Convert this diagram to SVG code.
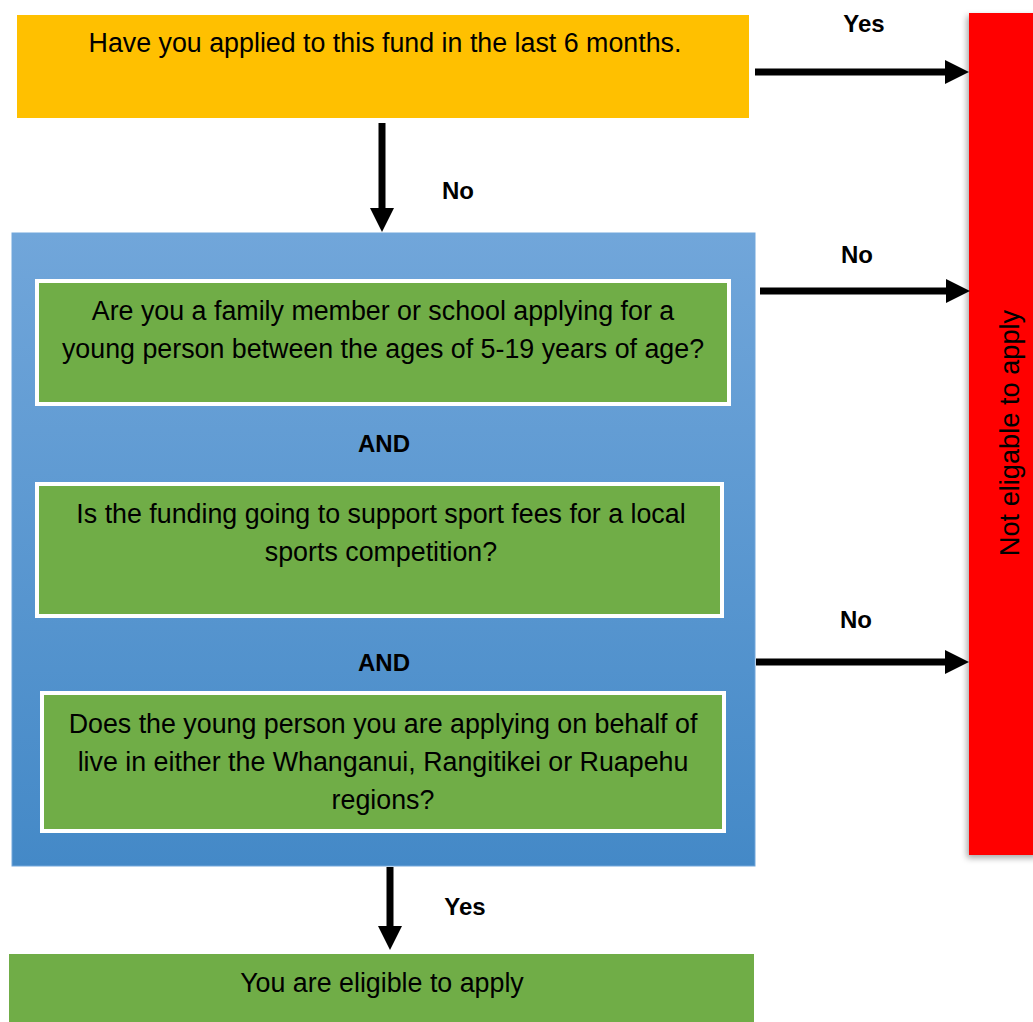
<svg xmlns="http://www.w3.org/2000/svg" width="1033" height="1022" viewBox="0 0 1033 1022">
<style>
.t{font-family:"Liberation Sans",Arial,sans-serif;font-size:26.8px;fill:#000;text-anchor:middle}
.b{font-family:"Liberation Sans",Arial,sans-serif;font-size:24px;font-weight:bold;fill:#000;text-anchor:middle}
.g{fill:#70AD47;stroke:#fff;stroke-width:4}
.c{stroke:#000;stroke-width:7;fill:none}
</style>
<defs>
<linearGradient id="blue" x1="0" y1="0" x2="0" y2="1">
<stop offset="0" stop-color="#71A6DA"/>
<stop offset="1" stop-color="#4489C7"/>
</linearGradient>
<filter id="sh" x="-20%" y="-5%" width="140%" height="110%">
<feDropShadow dx="-2" dy="3" stdDeviation="3" flood-color="#000" flood-opacity="0.35"/>
</filter>
<marker id="ah" markerUnits="userSpaceOnUse" markerWidth="24" markerHeight="24" refX="1" refY="12" orient="auto">
<path d="M0,0 L24,12 L0,24 z" fill="#000"/>
</marker>
</defs>
<g id="q1">
<rect x="17" y="15" width="732" height="103" fill="#FFC000"/>
<text class="t" x="385" y="52">Have you applied to this fund in the last 6 months.</text>
</g>
<g id="notEligible">
<rect x="969" y="13" width="70" height="842" fill="#FF0000" filter="url(#sh)"/>
<text class="t" style="font-size:27.2px" transform="translate(1019,433) rotate(-90)">Not eligable to apply</text>
</g>
<g id="criteria">
<rect x="12" y="233" width="743" height="633" fill="url(#blue)" stroke="#72A7DB" stroke-width="1"/>
<text class="b" x="384" y="452">AND</text>
<text class="b" x="384" y="671">AND</text>
</g>
<g id="q2">
<rect class="g" x="37" y="281" width="692" height="123"/>
<text class="t" x="383" y="320">Are you a family member or school applying for a</text>
<text class="t" x="383" y="358">young person between the ages of 5-19 years of age?</text>
</g>
<g id="q3">
<rect class="g" x="37" y="484" width="685" height="132"/>
<text class="t" x="381" y="523">Is the funding going to support sport fees for a local</text>
<text class="t" x="381" y="561">sports competition?</text>
</g>
<g id="q4">
<rect class="g" x="42" y="693" width="682" height="138"/>
<text class="t" x="383" y="733">Does the young person you are applying on behalf of</text>
<text class="t" x="383" y="771">live in either the Whanganui, Rangitikei or Ruapehu</text>
<text class="t" x="383" y="809">regions?</text>
</g>
<g id="eligible">
<rect x="9" y="954" width="745" height="68" fill="#70AD47"/>
<text class="t" x="382" y="992">You are eligible to apply</text>
</g>
<g id="connectors">
<line class="c" x1="755" y1="72" x2="946" y2="72" marker-end="url(#ah)"/>
<text class="b" x="864" y="32">Yes</text>
<line class="c" x1="382" y1="123" x2="382" y2="209" marker-end="url(#ah)"/>
<text class="b" x="458" y="199">No</text>
<line class="c" x1="760" y1="291" x2="947" y2="291" marker-end="url(#ah)"/>
<text class="b" x="857" y="263">No</text>
<line class="c" x1="756" y1="662" x2="946" y2="662" marker-end="url(#ah)"/>
<text class="b" x="856" y="628">No</text>
<line class="c" x1="390" y1="867" x2="390" y2="927" marker-end="url(#ah)"/>
<text class="b" x="465" y="915">Yes</text>
</g>
</svg>
